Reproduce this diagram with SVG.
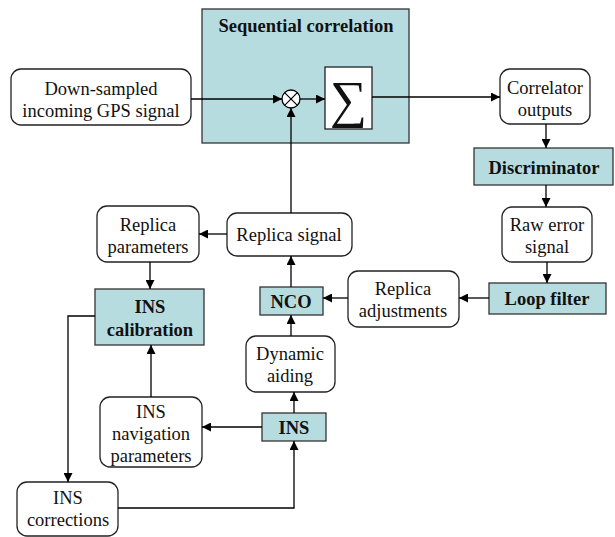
<svg xmlns="http://www.w3.org/2000/svg" width="615" height="537" viewBox="0 0 615 537">
<style>
.b{fill:#fff;stroke:#222;stroke-width:1.3}
.s{fill:#b7dce0;stroke:#333;stroke-width:1.3}
text{font-family:"Liberation Serif","Times New Roman",serif;font-size:18.5px;fill:#111;text-anchor:middle}
.t{font-weight:bold;font-size:18.5px}
.c{fill:none;stroke:#000;stroke-width:1.3}
</style>
<defs>
<marker id="a" viewBox="0 0 10 10" refX="10" refY="5" markerWidth="9" markerHeight="9" markerUnits="userSpaceOnUse" orient="auto">
<path d="M0,0L10,5L0,10z" fill="#000"/>
</marker>
</defs>
<g id="seqcorr">
<rect class="s" x="202" y="9" width="207" height="134"/>
<text class="t" x="306" y="32">Sequential correlation</text>
</g>
<g id="mult">
<circle cx="291" cy="99" r="9" fill="#fff" stroke="#000" stroke-width="1.3"/>
<path d="M284.6,92.6L297.4,105.4M297.4,92.6L284.6,105.4" stroke="#000" stroke-width="1.2"/>
</g>
<g id="sum">
<rect x="325" y="67" width="47" height="62" fill="#fff" stroke="#222" stroke-width="1.3"/>
<text x="348.5" y="117" style="font-size:52px">∑</text>
</g>
<g id="input">
<rect class="b" x="11" y="69" width="180" height="56" rx="10"/>
<text x="101" y="95">Down-sampled</text>
<text x="101" y="117">incoming GPS signal</text>
</g>
<g id="corrout">
<rect class="b" x="500" y="69" width="90" height="55" rx="10"/>
<text x="545" y="94">Correlator</text>
<text x="545" y="116">outputs</text>
</g>
<g id="discriminator">
<rect class="s" x="474" y="148" width="139" height="37"/>
<text class="t" x="544" y="174">Discriminator</text>
</g>
<g id="rawerr">
<rect class="b" x="502" y="207" width="90" height="55" rx="10"/>
<text x="547" y="231">Raw error</text>
<text x="547" y="253">signal</text>
</g>
<g id="loopfilter">
<rect class="s" x="489" y="283" width="117" height="31"/>
<text class="t" x="547" y="305">Loop filter</text>
</g>
<g id="repadj">
<rect class="b" x="348" y="271" width="111" height="56" rx="10"/>
<text x="403" y="295">Replica</text>
<text x="403" y="317">adjustments</text>
</g>
<g id="nco">
<rect class="s" x="260" y="287" width="63" height="28"/>
<text class="t" x="291" y="308">NCO</text>
</g>
<g id="repsig">
<rect class="b" x="227" y="213" width="125" height="43" rx="10"/>
<text x="289" y="241">Replica signal</text>
</g>
<g id="repparams">
<rect class="b" x="97" y="206" width="102" height="56" rx="10"/>
<text x="148" y="231">Replica</text>
<text x="148" y="253">parameters</text>
</g>
<g id="inscal">
<rect class="s" x="95" y="289" width="109" height="56"/>
<text class="t" x="150" y="313">INS</text>
<text class="t" x="150" y="336">calibration</text>
</g>
<g id="dynaid">
<rect class="b" x="246" y="336" width="89" height="56" rx="10"/>
<text x="290" y="360">Dynamic</text>
<text x="290" y="382">aiding</text>
</g>
<g id="ins">
<rect class="s" x="262" y="413" width="64" height="28"/>
<text class="t" x="294" y="434">INS</text>
</g>
<g id="insnav">
<rect class="b" x="100" y="397" width="102" height="70" rx="10"/>
<text x="151" y="418">INS</text>
<text x="151" y="440">navigation</text>
<text x="151" y="462">parameters</text>
</g>
<g id="inscorr">
<rect class="b" x="17" y="482" width="101" height="54" rx="10"/>
<text x="68" y="504">INS</text>
<text x="68" y="526">corrections</text>
</g>
<g id="connectors">
<path class="c" d="M191,99H282" marker-end="url(#a)"/>
<path class="c" d="M300,99H325" marker-end="url(#a)"/>
<path class="c" d="M372,97H500" marker-end="url(#a)"/>
<path class="c" d="M546,124V148" marker-end="url(#a)"/>
<path class="c" d="M546,185V207" marker-end="url(#a)"/>
<path class="c" d="M547,262V283" marker-end="url(#a)"/>
<path class="c" d="M489,298H459" marker-end="url(#a)"/>
<path class="c" d="M348,298H323" marker-end="url(#a)"/>
<path class="c" d="M291,287V256" marker-end="url(#a)"/>
<path class="c" d="M291,213V108" marker-end="url(#a)"/>
<path class="c" d="M227,234H199" marker-end="url(#a)"/>
<path class="c" d="M150,262V289" marker-end="url(#a)"/>
<path class="c" d="M95,316H68V482" marker-end="url(#a)"/>
<path class="c" d="M151,397V345" marker-end="url(#a)"/>
<path class="c" d="M262,427H202" marker-end="url(#a)"/>
<path class="c" d="M294,413V392" marker-end="url(#a)"/>
<path class="c" d="M291,336V315" marker-end="url(#a)"/>
<path class="c" d="M118,508H294V441" marker-end="url(#a)"/>
</g>
</svg>
